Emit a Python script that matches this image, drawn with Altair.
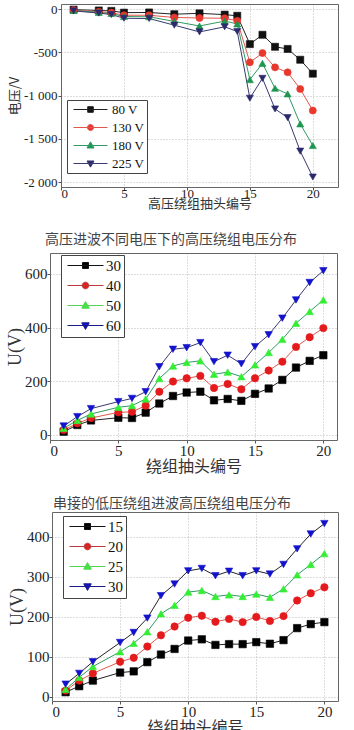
import altair as alt
import pandas as pd

# ---------------- data ----------------
p1_x = [1, 3, 4, 5, 7, 9, 11, 13, 14, 15, 16, 17, 18, 19, 20]
p1_labels = ["80 V", "130 V", "180 V", "225 V"]
p1_v80 = [-5, -15, -20, -40, -38, -58, -48, -63, -76, -404, -296, -435, -460, -585, -746]
p1_v130 = [-10, -30, -40, -70, -70, -96, -102, -105, -135, -615, -508, -673, -730, -923, -1173]
p1_v180 = [-15, -38, -50, -85, -88, -142, -194, -138, -170, -815, -627, -915, -980, -1327, -1577]
p1_v225 = [-20, -45, -62, -105, -108, -185, -263, -204, -258, -1030, -800, -1154, -1254, -1642, -1942]

p2_x = [1, 2, 3, 5, 6, 7, 8, 9, 10, 11, 12, 13, 14, 15, 16, 17, 18, 19, 20]
p2_labels = ["30", "40", "50", "60"]
p2_v30 = [12, 37, 54, 64, 63, 83, 117, 145, 158, 161, 129, 134, 127, 153, 173, 205, 251, 276, 297]
p2_v40 = [18, 43, 63, 84, 86, 109, 161, 199, 211, 220, 175, 190, 170, 211, 240, 273, 328, 364, 398]
p2_v50 = [25, 54, 78, 103, 109, 134, 210, 257, 270, 276, 226, 234, 217, 261, 307, 356, 416, 460, 503]
p2_v60 = [33, 68, 98, 124, 136, 161, 254, 319, 325, 344, 273, 297, 265, 329, 373, 435, 503, 568, 612]

p3_x = [1, 2, 3, 5, 6, 7, 8, 9, 10, 11, 12, 13, 14, 15, 16, 17, 18, 19, 20]
p3_labels = ["15", "20", "25", "30"]
p3_v15 = [12, 27, 41, 61, 64, 87, 106, 120, 141, 144, 130, 132, 132, 137, 133, 142, 172, 182, 187]
p3_v20 = [16, 41, 59, 88, 98, 126, 154, 176, 198, 203, 188, 195, 187, 200, 190, 202, 241, 259, 274]
p3_v25 = [19, 49, 76, 113, 134, 163, 208, 229, 262, 266, 251, 255, 251, 257, 249, 270, 305, 331, 358]
p3_v30 = [32, 59, 88, 136, 161, 197, 253, 282, 315, 321, 303, 314, 303, 315, 307, 331, 370, 407, 433]

p2_title = "高压进波不同电压下的高压绕组电压分布"
p3_title = "串接的低压绕组进波高压绕组电压分布"
x_ticks = [0, 5, 10, 15, 20]


def long_df(xs, labels, series):
    rows = []
    for lab, ys in zip(labels, series):
        for i, (x, y) in enumerate(zip(xs, ys)):
            rows.append({"x": x, "y": y, "s": lab, "o": i})
    return pd.DataFrame(rows)


SERIF = "Liberation Serif"
CJK = "Noto Sans CJK SC"
SHAPES = ["square", "circle", "triangle-up", "triangle-down"]
FRAME = "#666666"


def leg_paths(diam, line_half, mark_half):
    r = diam / 2.0
    L = round(line_half / r, 3)
    m = round(mark_half / r, 3)
    c = round(m * 1.1, 3)
    tw = round(m * 1.25, 3)
    th = round(m * 1.3, 3)
    tb = round(m * 0.9, 3)
    return [
        f"M{-L},0H{L}M{-m},{-m}H{m}V{m}H{-m}Z",
        f"M{-L},0H{L}M{-c},0A{c},{c} 0 1,0 {c},0A{c},{c} 0 1,0 {-c},0Z",
        f"M{-L},0H{L}M0,{-th}L{tw},{tb}H{-tw}Z",
        f"M{-L},0H{L}M0,{th}L{tw},{-tb}H{-tw}Z",
    ]


def panel(df, labels, w, h, inset, xdom, ydom, yvals, xtitle, ytitle, line_cols, fill_cols,
          leg_x, leg_y, leg_font, diam, line_half, mark_half, sym_off, lab_off, leg_pad, leg_row,
          lab_font, xt_font, xt_family, yt_font, yt_family, x_lp, x_tp, y_lp, y_tp,
          ylabel_expr=None, msize=55):
    xs = alt.Scale(domain=xdom, range=[inset, w], nice=False, zero=False)
    ys = alt.Scale(domain=ydom, nice=False, zero=False)
    yaxis_kw = dict(values=yvals, title=ytitle, labelFont=SERIF, labelFontSize=lab_font,
                    titleFont=yt_family, titleFontSize=yt_font, titleFontWeight="normal",
                    titleColor="#333", labelColor="#222", grid=True, gridDash=[1, 2],
                    gridColor="#bbbbbb", tickSize=3, tickColor="#555", domainColor=FRAME,
                    labelPadding=y_lp, titlePadding=y_tp, offset=-inset)
    if ylabel_expr:
        yaxis_kw["labelExpr"] = ylabel_expr
    x = alt.X("x:Q", scale=xs,
              axis=alt.Axis(values=x_ticks, title=xtitle, labelFont=SERIF, labelFontSize=lab_font,
                            titleFont=xt_family, titleFontSize=xt_font, titleFontWeight="normal",
                            titleColor="#333", labelColor="#222", grid=True, gridDash=[1, 2],
                            gridColor="#bbbbbb", tickSize=3, tickColor="#555",
                            domainColor=FRAME, labelPadding=x_lp, titlePadding=x_tp))
    y = alt.Y("y:Q", scale=ys, axis=alt.Axis(**yaxis_kw))
    xn = alt.X("x:Q", scale=xs, axis=None)
    yn = alt.Y("y:Q", scale=ys, axis=None)
    base = alt.Chart(df)
    lines = base.mark_line(strokeWidth=1).encode(
        x=x, y=y, order="o:Q",
        color=alt.Color("s:N", scale=alt.Scale(domain=labels, range=line_cols), legend=None))
    pts = base.mark_point(filled=True, size=msize, opacity=1, strokeWidth=0.6).encode(
        x=xn, y=yn,
        shape=alt.Shape("s:N", scale=alt.Scale(domain=labels, range=SHAPES), legend=None),
        fill=alt.Fill("s:N", scale=alt.Scale(domain=labels, range=fill_cols), legend=None),
        stroke=alt.Stroke("s:N", scale=alt.Scale(domain=labels, range=fill_cols), legend=None))
    sym_size = diam * diam
    L = alt.Legend(orient="none", legendX=leg_x, legendY=leg_y, title=None,
                   strokeColor="#444", fillColor="white", padding=leg_pad, labelFont=SERIF,
                   labelFontSize=leg_font, labelColor="#111", labelOffset=lab_off,
                   symbolOffset=sym_off, rowPadding=leg_row, symbolSize=sym_size,
                   symbolStrokeWidth=1)
    leg = base.transform_filter("false").mark_point(filled=True, size=sym_size, opacity=1,
                                                    strokeWidth=1).encode(
        x=xn, y=yn,
        shape=alt.Shape("s:N", scale=alt.Scale(domain=labels,
                                               range=leg_paths(diam, line_half, mark_half)),
                        legend=L),
        fill=alt.Fill("s:N", scale=alt.Scale(domain=labels, range=fill_cols), legend=L),
        stroke=alt.Stroke("s:N", scale=alt.Scale(domain=labels, range=line_cols), legend=L))
    frame = base.transform_filter("false").mark_point(opacity=0).encode(
        x=alt.X("x:Q", scale=xs, axis=alt.Axis(orient="top", labels=False, ticks=False,
                                                grid=False, domainColor=FRAME, title=None)),
        y=alt.Y("y:Q", scale=ys, axis=alt.Axis(orient="right", labels=False, ticks=False,
                                                grid=False, domainColor=FRAME, title=None)))
    return alt.layer(lines, pts, leg, frame).resolve_scale(
        shape="independent", fill="independent", stroke="independent"
    ).resolve_axis(x="independent", y="independent").properties(width=w, height=h)


df1 = long_df(p1_x, p1_labels, [p1_v80, p1_v130, p1_v180, p1_v225])
df2 = long_df(p2_x, p2_labels, [p2_v30, p2_v40, p2_v50, p2_v60])
df3 = long_df(p3_x, p3_labels, [p3_v15, p3_v20, p3_v25, p3_v30])

c1_line = ["#222222", "#e0574d", "#2f9a62", "#3a3870"]
c1_fill = ["#111111", "#e8372c", "#1f9650", "#2c2a6e"]
c2_line = ["#111111", "#b83a3a", "#55d455", "#1a1a88"]
c2_fill = ["#000000", "#e41a1c", "#33ee33", "#1212cc"]

label_expr = "(datum.value < 0 ? '-' : '') + replace(format(abs(datum.value), ','), ',', ' ')"

p1 = panel(df1, p1_labels, 288, 183, 11, [0, 22], [-2057, 60], [0, -500, -1000, -1500, -2000],
           "高压绕组抽头编号", "电压/V", c1_line, c1_fill, 17, 96, 13,
           14, 17, 2.8, 14, 14, 2, 3,
           13, 13, CJK, 13, CJK, -3, -3, 1, 2, ylabel_expr=label_expr, msize=50)
p2 = panel(df2, p2_labels, 287, 187, 0, [0, 21], [-19, 678], [0, 200, 400, 600],
           "绕组抽头编号", "U(V)", c2_line, c2_fill, 11, 2, 15,
           14, 18, 3, 14, 13, 3, 4,
           15, 16, CJK, 18, SERIF, 0, 0, 0, 0, msize=55)
p3 = panel(df3, p3_labels, 288, 189, 2, [0, 21], [-10, 462], [0, 100, 200, 300, 400],
           "绕组抽头编号", "U(V)", c2_line, c2_fill, 13, 4, 15,
           14, 18, 3, 14, 13, 3, 4,
           15, 16, CJK, 18, SERIF, 0, 0, 0, 0, msize=55)

p2 = p2.properties(title=alt.TitleParams(p2_title, font=CJK, fontSize=14, fontWeight="normal",
                                         color="#444", anchor="start", frame="group",
                                         dx=-5, offset=6))
p3 = p3.properties(title=alt.TitleParams(p3_title, font=CJK, fontSize=14, fontWeight="normal",
                                         color="#444", anchor="start", frame="group",
                                         dx=3, offset=1))

chart = alt.concat(p1, p2, p3, columns=1, spacing=21).properties(
    padding={"left": 6, "top": 2, "right": 0, "bottom": 0}
).configure_view(stroke="transparent")

chart.save("out.html", embed_options={"renderer": "svg", "actions": False})
